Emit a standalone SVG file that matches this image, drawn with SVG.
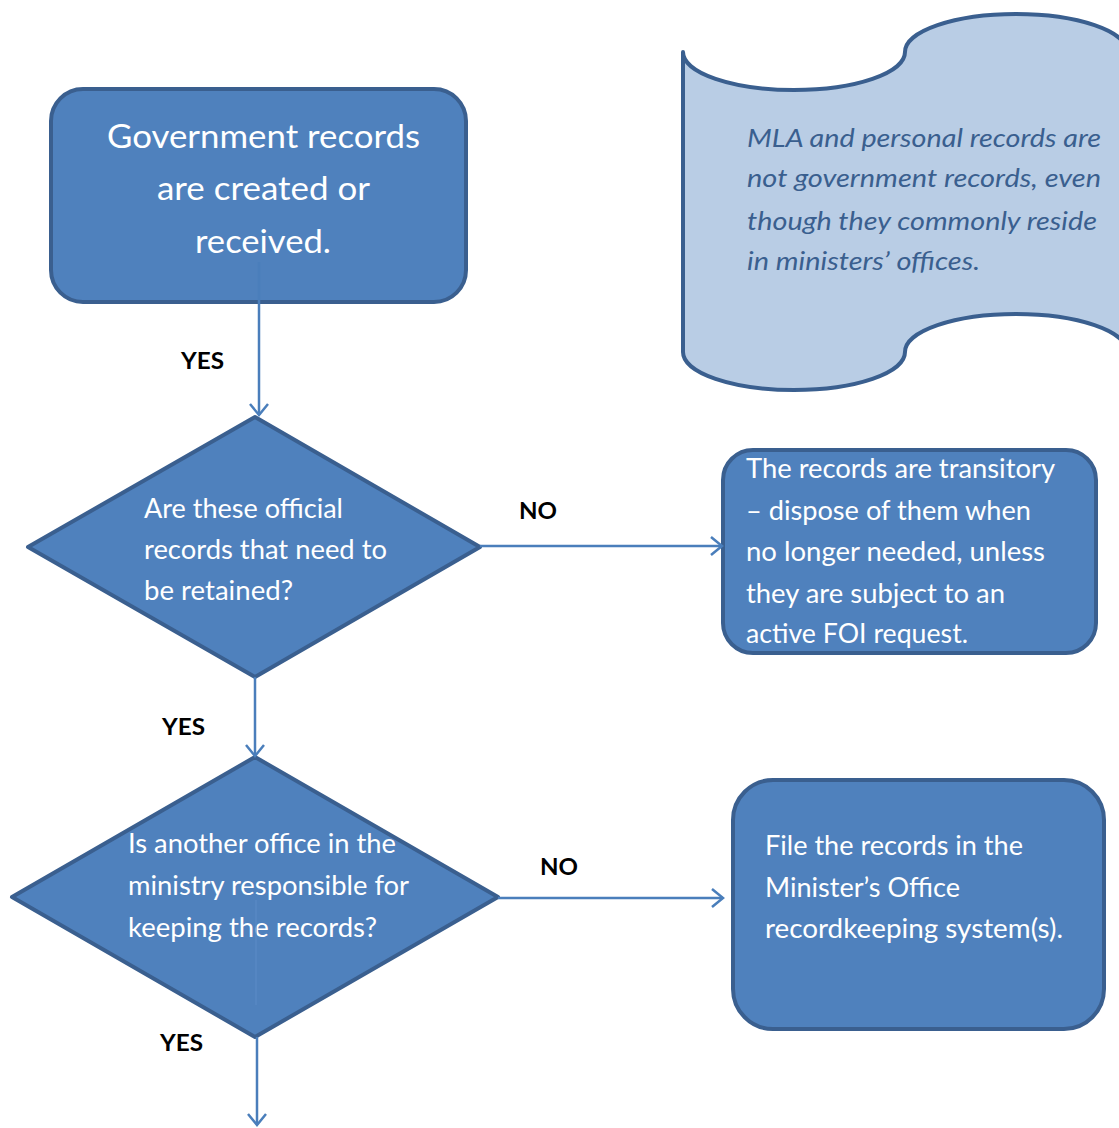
<svg xmlns="http://www.w3.org/2000/svg" width="1119" height="1128" viewBox="0 0 1119 1128">
<style>
.shape{fill:#4F81BD;stroke:#3A5F8F;stroke-width:4;stroke-linejoin:round}
.wave{fill:#B9CDE5;stroke:#3A5F8F;stroke-width:4;stroke-linejoin:round}
.t{font-family:Lato,"Open Sans","Liberation Sans",sans-serif;fill:#FFFFFF;font-size:26px}
.big{font-size:33px}
.it{font-family:Lato,"Open Sans","Liberation Sans",sans-serif;fill:#3A5F8F;font-size:26px;font-style:italic}
.lab{font-family:Lato,"Open Sans","Liberation Sans",sans-serif;font-weight:bold;font-size:23px;fill:#000}
.con{fill:none;stroke:#4A7EBB;stroke-width:2.5}
</style>
<defs>
<marker id="ah" markerWidth="14" markerHeight="22" refX="12" refY="11" orient="auto" markerUnits="userSpaceOnUse">
<path d="M1,2 L12,11 L1,20" fill="none" stroke="#4A7EBB" stroke-width="2.5"/>
</marker>
</defs>
<rect width="1119" height="1128" fill="#FFFFFF"/>

<g id="note">
<path class="wave" d="M683,52 A111,38 0 0 0 905,52 A111,38 0 0 1 1127,52 L1127,352 A111,38 0 0 0 905,352 A111,38 0 0 1 683,352 Z"/>
<text class="it" x="747" y="147" textLength="354" lengthAdjust="spacingAndGlyphs">MLA and personal records are</text>
<text class="it" x="747" y="187" textLength="354" lengthAdjust="spacingAndGlyphs">not government records, even</text>
<text class="it" x="747" y="230" textLength="350" lengthAdjust="spacingAndGlyphs">though they commonly reside</text>
<text class="it" x="747" y="270" textLength="233" lengthAdjust="spacingAndGlyphs">in ministers’ offices.</text>
</g>

<g id="start">
<rect class="shape" x="51" y="89" width="415" height="213" rx="32"/>
<text class="t big" x="107" y="148" textLength="313" lengthAdjust="spacingAndGlyphs">Government records</text>
<text class="t big" x="157" y="200" textLength="213" lengthAdjust="spacingAndGlyphs">are created or</text>
<text class="t big" x="195" y="253" textLength="136" lengthAdjust="spacingAndGlyphs">received.</text>
</g>

<g id="decision1">
<polygon class="shape" points="255,417 480,547 255,677 28,547"/>
<text class="t" x="144" y="518" textLength="199" lengthAdjust="spacingAndGlyphs">Are these official</text>
<text class="t" x="144" y="559" textLength="243" lengthAdjust="spacingAndGlyphs">records that need to</text>
<text class="t" x="144" y="600" textLength="149" lengthAdjust="spacingAndGlyphs">be retained?</text>
</g>

<g id="transitory">
<rect class="shape" x="723" y="450" width="373" height="203" rx="30"/>
<text class="t" x="746" y="478" textLength="309" lengthAdjust="spacingAndGlyphs">The records are transitory</text>
<text class="t" x="746" y="520" textLength="285" lengthAdjust="spacingAndGlyphs">– dispose of them when</text>
<text class="t" x="746" y="561" textLength="299" lengthAdjust="spacingAndGlyphs">no longer needed, unless</text>
<text class="t" x="746" y="603" textLength="259" lengthAdjust="spacingAndGlyphs">they are subject to an</text>
<text class="t" x="746" y="643" textLength="222" lengthAdjust="spacingAndGlyphs">active FOI request.</text>
</g>

<g id="decision2">
<polygon class="shape" points="255,757 498,897 255,1037 12,897"/>
<text class="t" x="128" y="853" textLength="268" lengthAdjust="spacingAndGlyphs">Is another office in the</text>
<text class="t" x="128" y="895" textLength="281" lengthAdjust="spacingAndGlyphs">ministry responsible for</text>
<text class="t" x="128" y="937" textLength="249" lengthAdjust="spacingAndGlyphs">keeping the records?</text>
</g>

<g id="file">
<rect class="shape" x="733" y="780" width="371" height="249" rx="40"/>
<text class="t" x="765" y="855" textLength="258" lengthAdjust="spacingAndGlyphs">File the records in the</text>
<text class="t" x="765" y="897" textLength="195" lengthAdjust="spacingAndGlyphs">Minister’s Office</text>
<text class="t" x="765" y="938" textLength="298" lengthAdjust="spacingAndGlyphs">recordkeeping system(s).</text>
</g>

<g id="connectors">
<line class="con" x1="259" y1="262" x2="259" y2="415" marker-end="url(#ah)"/>
<line class="con" x1="480" y1="546" x2="722" y2="546" marker-end="url(#ah)"/>
<line class="con" x1="255" y1="677" x2="255" y2="756" marker-end="url(#ah)"/>
<line class="con" x1="498" y1="898" x2="723" y2="898" marker-end="url(#ah)"/>
<line class="con" x1="257" y1="1037" x2="257" y2="1125" marker-end="url(#ah)"/>
<line x1="256" y1="900" x2="256" y2="1005" stroke="#5A8AC6" stroke-width="2" opacity="0.6"/>
<text class="lab" x="181" y="369" textLength="43" lengthAdjust="spacingAndGlyphs">YES</text>
<text class="lab" x="519" y="519" textLength="38" lengthAdjust="spacingAndGlyphs">NO</text>
<text class="lab" x="162" y="735" textLength="43" lengthAdjust="spacingAndGlyphs">YES</text>
<text class="lab" x="540" y="875" textLength="38" lengthAdjust="spacingAndGlyphs">NO</text>
<text class="lab" x="160" y="1051" textLength="43" lengthAdjust="spacingAndGlyphs">YES</text>
</g>
</svg>
